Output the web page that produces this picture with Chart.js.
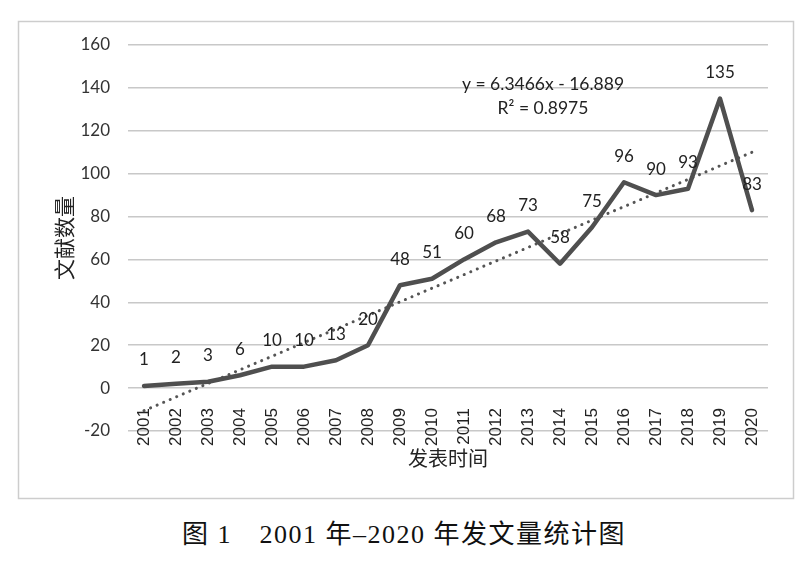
<!DOCTYPE html>
<html>
<head>
<meta charset="utf-8">
<script src="https://cdn.jsdelivr.net/npm/chart.js@4.4.1/dist/chart.umd.min.js"></script>
<style>
  html, body { margin: 0; padding: 0; background: #fff; }
  #wrap { position: relative; width: 800px; height: 500px; }
  #caption {
    position: absolute; left: 0; top: 513px; width: 808px; text-align: center;
    font: 26px "Liberation Serif", "Noto Sans CJK SC", serif; color: #111;
    letter-spacing: 1.5px;
  }
</style>
</head>
<body>
<div id="wrap"><canvas id="chart"></canvas></div>
<div id="caption">图 1　2001 年–2020 年发文量统计图</div>
<script>
// data
const years = ["2001", "2002", "2003", "2004", "2005", "2006", "2007", "2008", "2009", "2010",
  "2011", "2012", "2013", "2014", "2015", "2016", "2017", "2018", "2019", "2020"];
const counts = [1, 2, 3, 6, 10, 10, 13, 20, 48, 51, 60, 68, 73, 58, 75, 96, 90, 93, 135, 83];
// linear trend line end points (y = 6.3466x - 16.889)
const trendStart = -10.5;
const trendEnd = 110.0;
const yTicks = [-20, 0, 20, 40, 60, 80, 100, 120, 140, 160];

const trend = years.map((y, i) => (i === 0 ? trendStart : i === years.length - 1 ? trendEnd : null));

// frame around the chart + value labels + trend equation
const extras = {
  id: "extras",
  beforeDraw(chart) {
    const ctx = chart.ctx;
    ctx.save();
    ctx.fillStyle = "#fff";
    ctx.fillRect(0, 0, chart.width, chart.height);
    ctx.strokeStyle = "#cdcdcd";
    ctx.lineWidth = 1.5;
    ctx.strokeRect(18.5, 21.5, 775, 477);
    ctx.restore();
  },
  afterDatasetsDraw(chart) {
    const ctx = chart.ctx;
    const meta = chart.getDatasetMeta(0);
    ctx.save();
    ctx.font = "17px Lato";
    ctx.fillStyle = "#222";
    ctx.textAlign = "center";
    ctx.textBaseline = "middle";
    meta.data.forEach((pt, i) => {
      ctx.fillText(String(counts[i]), pt.x, pt.y - 26);
    });
    ctx.font = "17.5px Lato";
    ctx.fillText("y = 6.3466x - 16.889", 543, 84);
    ctx.fillText("R² = 0.8975", 543, 108);
    ctx.restore();
  }
};

new Chart(document.getElementById("chart"), {
  type: "line",
  data: {
    labels: years,
    datasets: [
      {
        label: "文献数量",
        data: counts,
        borderColor: "#4f4f4f",
        borderWidth: 4.5,
        borderJoinStyle: "round",
        borderCapStyle: "round",
        pointRadius: 0,
        tension: 0,
        fill: false
      },
      {
        label: "趋势线",
        data: trend,
        borderColor: "#555",
        borderWidth: 3,
        borderDash: [0.1, 7],
        borderCapStyle: "round",
        pointRadius: 0,
        spanGaps: true,
        fill: false
      }
    ]
  },
  options: {
    responsive: true,
    maintainAspectRatio: false,
    animation: false,
    layout: { padding: { left: 50, right: 32, top: 45, bottom: 69 } },
    plugins: {
      legend: { display: false },
      tooltip: { enabled: false }
    },
    scales: {
      x: {
        position: { y: 0 },
        offset: true,
        grid: { display: false },
        border: { display: false },
        ticks: {
          minRotation: 90,
          maxRotation: 90,
          padding: 12,
          color: "#222",
          font: { family: "Liberation Sans", size: 17 }
        },
        title: {
          display: true,
          text: "发表时间",
          color: "#222",
          padding: { top: -12, bottom: 0 },
          font: { family: "Noto Sans CJK SC", size: 20 }
        }
      },
      y: {
        min: -20,
        max: 160,
        afterFit(scale) { scale.width = 78; },
        afterBuildTicks(scale) { scale.ticks = yTicks.map((v) => ({ value: v })); },
        grid: { color: "#c8c8c8", lineWidth: 1.5, drawTicks: false },
        border: { display: false },
        ticks: {
          padding: 18,
          color: "#333",
          font: { family: "Lato", size: 17 }
        },
        title: {
          display: true,
          text: "文献数量",
          color: "#222",
          padding: { top: 1, bottom: 0 },
          font: { family: "Noto Sans CJK SC", size: 21 }
        }
      }
    }
  },
  plugins: [extras]
});
</script>
</body>
</html>
